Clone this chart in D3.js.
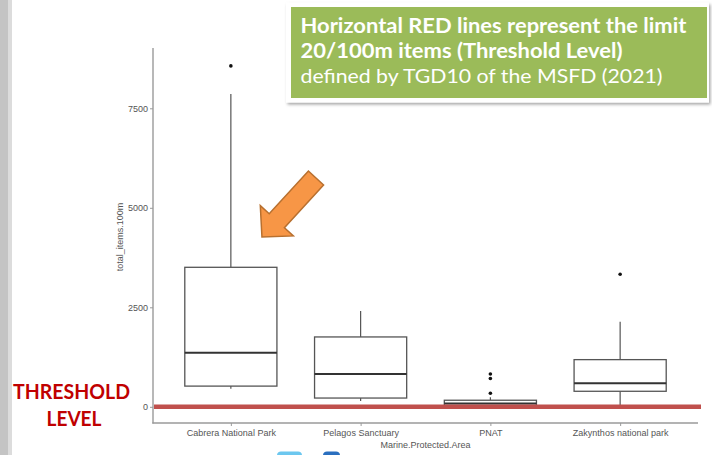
<!DOCTYPE html>
<html>
<head>
<meta charset="utf-8">
<script src="https://cdn.jsdelivr.net/npm/d3@7"></script>
<style>
  html, body { margin: 0; padding: 0; background: #fff; }
  svg { display: block; }
</style>
</head>
<body>
<svg id="chart" width="712" height="455"></svg>
<script>
// ---- data ----
const categories = ["Cabrera National Park", "Pelagos Sanctuary", "PNAT", "Zakynthos national park"];
const whiskerLow  = [455, 145, 0, 0];
const q1          = [520, 220, 35, 390];
const median      = [1360, 825, 80, 590];
const q3          = [3505, 1755, 165, 1185];
const whiskerHigh = [7860, 2405, 240, 2140];
const outliers    = [[8565], [], [825, 710, 340], [3330]];
const yTicks      = [0, 2500, 5000, 7500];
const threshold   = 0;
const noteLines   = ["Horizontal RED lines represent the limit", "20/100m items (Threshold Level)", "defined by TGD10 of the MSFD (2021)"];
const sideLabel   = ["THRESHOLD", "LEVEL"];

const svg = d3.select("#chart");
const axisFont = "'Liberation Sans', Arial, sans-serif";
const noteFont = "Lato, 'Open Sans', sans-serif";

// slide left edge strip
svg.append("rect").attr("x", 0).attr("y", 0).attr("width", 8).attr("height", 455).attr("fill", "#c4c4c4");
svg.append("rect").attr("x", 8).attr("y", 0).attr("width", 4).attr("height", 455).attr("fill", "#dcdcdc");

// scales
const x = d3.scalePoint().domain(categories).range([153, 698]).padding(0.6);
const y = d3.scaleLinear().domain([-407, 9015]).range([423, 48]);
const bw = x.step() * 0.71;

// axis lines
const axisColor = "#9a9a9a";
svg.append("line").attr("x1", 153).attr("x2", 153).attr("y1", 48).attr("y2", 423.5)
  .attr("stroke", axisColor).attr("stroke-width", 1.4);
svg.append("line").attr("x1", 152.3).attr("x2", 698).attr("y1", 423).attr("y2", 423)
  .attr("stroke", axisColor).attr("stroke-width", 1.4);

// y axis
const gy = svg.append("g").attr("transform", "translate(153,0)")
  .call(d3.axisLeft(y).tickValues(yTicks).tickSize(3).tickSizeOuter(0).tickPadding(2).tickFormat(d3.format("d")));
gy.select(".domain").remove();
gy.selectAll(".tick line").attr("stroke", axisColor).attr("stroke-width", 1);
gy.selectAll(".tick text").attr("fill", "#555").attr("font-size", 9).attr("font-family", axisFont);

// x axis
const gx = svg.append("g").attr("transform", "translate(0,423)")
  .call(d3.axisBottom(x).tickSize(3).tickSizeOuter(0).tickPadding(4));
gx.select(".domain").remove();
gx.selectAll(".tick line").attr("stroke", axisColor).attr("stroke-width", 1);
gx.selectAll(".tick text").attr("fill", "#555").attr("font-size", 9).attr("font-family", axisFont);

// axis titles
svg.append("text").attr("x", 425.5).attr("y", 447.5).attr("text-anchor", "middle")
  .attr("font-size", 9).attr("font-family", axisFont).attr("fill", "#555").text("Marine.Protected.Area");
svg.append("text").attr("transform", "translate(123,237) rotate(-90)").attr("text-anchor", "middle")
  .attr("font-size", 9).attr("font-family", axisFont).attr("fill", "#555").text("total_items.100m");

// boxplots
const boxes = svg.append("g");
categories.forEach((c, i) => {
  const cx = x(c);
  const g = boxes.append("g");
  g.append("line").attr("x1", cx).attr("x2", cx).attr("y1", y(q3[i])).attr("y2", y(whiskerHigh[i]))
    .attr("stroke", "#555").attr("stroke-width", 1.2);
  g.append("line").attr("x1", cx).attr("x2", cx).attr("y1", y(q1[i])).attr("y2", y(whiskerLow[i]))
    .attr("stroke", "#555").attr("stroke-width", 1.2);
  g.append("rect").attr("x", cx - bw / 2).attr("width", bw)
    .attr("y", y(q3[i])).attr("height", y(q1[i]) - y(q3[i]))
    .attr("fill", "#fff").attr("stroke", "#555").attr("stroke-width", 1.3);
  g.append("line").attr("x1", cx - bw / 2).attr("x2", cx + bw / 2).attr("y1", y(median[i])).attr("y2", y(median[i]))
    .attr("stroke", "#333").attr("stroke-width", 2);
  outliers[i].forEach(v => {
    g.append("circle").attr("cx", cx).attr("cy", y(v)).attr("r", 1.8).attr("fill", "#111");
  });
});

// threshold line
svg.append("line").attr("x1", 154).attr("x2", 701).attr("y1", y(threshold)).attr("y2", y(threshold))
  .attr("stroke", "#c0504d").attr("stroke-width", 4.5);

// side label
svg.append("text").attr("x", 71.5).attr("y", 399.3).attr("text-anchor", "middle")
  .attr("font-family", noteFont).attr("font-weight", "bold").attr("font-size", 20)
  .attr("fill", "#c00000").attr("textLength", 117).attr("lengthAdjust", "spacingAndGlyphs").text(sideLabel[0]);
svg.append("text").attr("x", 74).attr("y", 426).attr("text-anchor", "middle")
  .attr("font-family", noteFont).attr("font-weight", "bold").attr("font-size", 20)
  .attr("fill", "#c00000").attr("textLength", 55).attr("lengthAdjust", "spacingAndGlyphs").text(sideLabel[1]);

// note box
const defs = svg.append("defs");
const f = defs.append("filter").attr("id", "sh").attr("x", "-5%").attr("y", "-10%").attr("width", "115%").attr("height", "130%");
f.append("feDropShadow").attr("dx", 1.5).attr("dy", 2).attr("stdDeviation", 1.5).attr("flood-color", "#000").attr("flood-opacity", 0.35);
svg.append("rect").attr("x", 286).attr("y", 2.5).attr("width", 423).attr("height", 100)
  .attr("fill", "#fff").attr("filter", "url(#sh)");
svg.append("rect").attr("x", 291).attr("y", 7).attr("width", 416).attr("height", 91).attr("fill", "#9bbb59");
const noteBase = [33.3, 58.3, 82.5];
const noteLen = [386, 322, 362];
noteLines.forEach((t, i) => {
  svg.append("text").attr("x", 300.5).attr("y", noteBase[i])
    .attr("font-family", noteFont).attr("font-size", 20)
    .attr("font-weight", i < 2 ? "bold" : "normal").attr("fill", "#fff")
    .attr("textLength", noteLen[i]).attr("lengthAdjust", "spacingAndGlyphs").text(t);
});

// orange arrow annotation (pointing at the Cabrera box)
const L = 80, sw = 10.3, hw = 22.4, hl = 22;
const arrowPts = [[0, -sw], [L - hl, -sw], [L - hl, -hw], [L, 0], [L - hl, hw], [L - hl, sw], [0, sw]];
svg.append("path").attr("d", "M" + arrowPts.map(p => p.join(",")).join("L") + "Z")
  .attr("transform", "translate(316,178) rotate(132.5)")
  .attr("fill", "#f79646").attr("stroke", "#b8702f").attr("stroke-width", 1.5).attr("stroke-linejoin", "miter");

// cut-off icons at the bottom edge
svg.append("rect").attr("x", 277).attr("y", 451.5).attr("width", 25).attr("height", 8).attr("rx", 4).attr("fill", "#6cc7ef");
svg.append("rect").attr("x", 323).attr("y", 451.5).attr("width", 17).attr("height", 8).attr("rx", 4).attr("fill", "#2a6fbf");
</script>
</body>
</html>
